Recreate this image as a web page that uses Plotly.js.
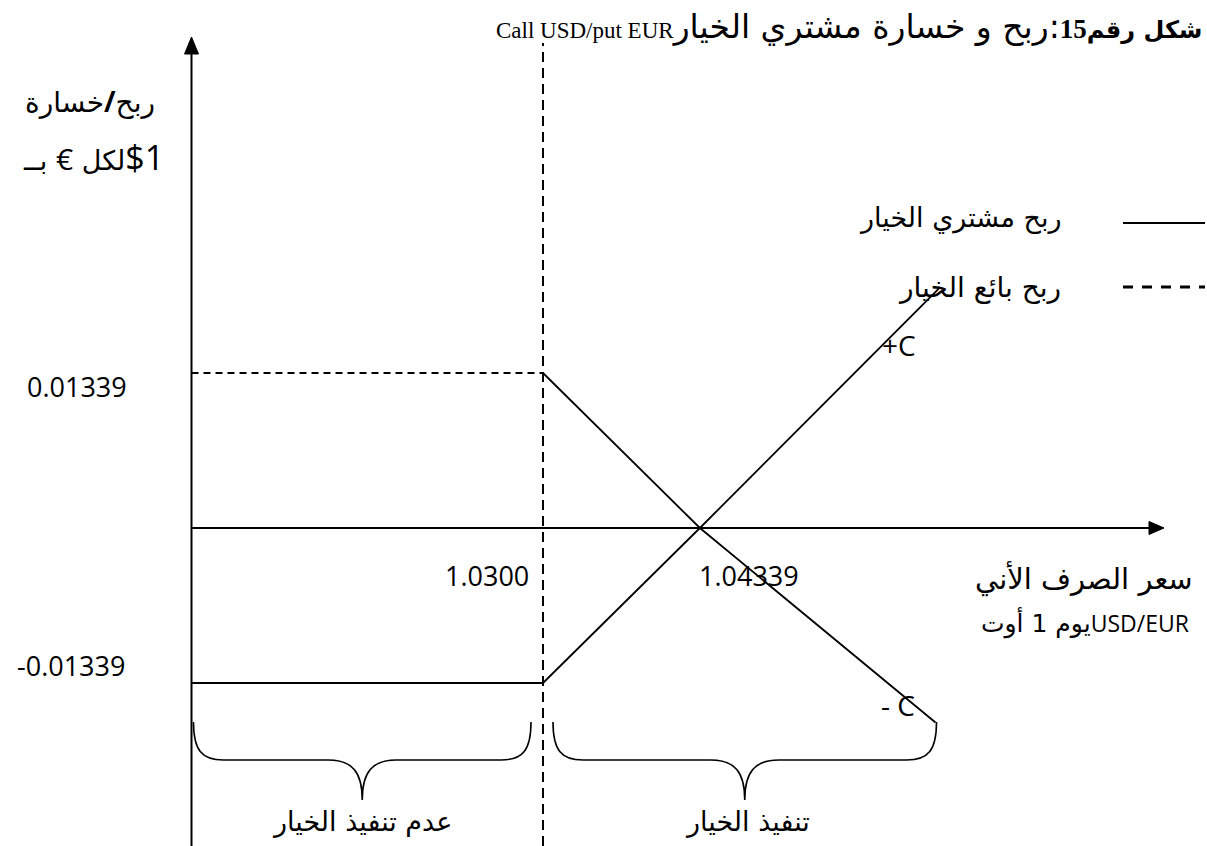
<!DOCTYPE html>
<html><head><meta charset="utf-8">
<script src="https://cdn.plot.ly/plotly-3.0.1.min.js"></script>
<style>html,body{margin:0;padding:0;background:#fff;}#chart{width:1207px;height:846px;}</style>
</head><body><div id="chart"></div>
<script>
// ---------------- data ----------------
const originX = 1.0;
const strike = 1.03;
const premium = 0.01339;
const breakEven = 1.04339;
const buyerX = [1.0, 1.03, 1.04339, 1.0638];
const buyerY = [-0.01339, -0.01339, 0, 0.0207];
const sellerFlatX = [1.0, 1.03];
const sellerFlatY = [0.01339, 0.01339];
const sellerSlopeX = [1.03, 1.04339, 1.0635];
const sellerSlopeY = [0.01339, 0, -0.0168];
const xTickVals = [1.03, 1.04339];
const xTickLabels = ['1.0300', '1.04339'];
const yTickVals = [0.01339, -0.01339];
const yTickLabels = ['0.01339', '-0.01339'];
const legendLabels = ['ربح مشتري الخيار', 'ربح بائع الخيار'];
const regionLabels = ['عدم تنفيذ الخيار', 'تنفيذ الخيار'];
const endLabels = ['+C', '- C'];

// ---------------- geometry ----------------
const W = 1207, H = 846;
const X0PX = 191.5, STRIKEPX = 543, Y0PX = 528, PREMPX = 155;
const kx = (STRIKEPX - X0PX) / (strike - originX);
const ky = PREMPX / premium;
const xRange = [originX - X0PX / kx, originX + (W - X0PX) / kx];
const yRange = [-(H - Y0PX) / ky, Y0PX / ky];
const xpx = v => X0PX + (v - originX) * kx;
const ypx = v => Y0PX - v * ky;
const PX = px => px / W;
const PY = py => 1 - py / H;
const dataX = px => originX + (px - X0PX) / kx;

const ARFONT = 'DejaVu Sans, sans-serif';
const NUMFONT = 'Open Sans, sans-serif';
const black = '#000';

const traces = [
  {x: buyerX, y: buyerY, mode: 'lines', line: {color: black, width: 1.8}, hoverinfo: 'skip'},
  {x: sellerFlatX, y: sellerFlatY, mode: 'lines', line: {color: black, width: 1.8, dash: '7px,5px'}, hoverinfo: 'skip'},
  {x: sellerSlopeX, y: sellerSlopeY, mode: 'lines', line: {color: black, width: 1.8}, hoverinfo: 'skip'}
];

function bracePath(x1, x2, yTop, yMid, yTip) {
  const xm = (x1 + x2) / 2, r = 30, t = 34;
  const p = (x, y) => PX(x).toFixed(5) + ',' + PY(y).toFixed(5);
  return 'M ' + p(x1, yTop) +
    ' C ' + p(x1, yMid - 10) + ' ' + p(x1 + 8, yMid) + ' ' + p(x1 + r, yMid) +
    ' L ' + p(xm - t, yMid) +
    ' C ' + p(xm - 10, yMid) + ' ' + p(xm, yMid + 12) + ' ' + p(xm, yTip) +
    ' C ' + p(xm, yMid + 12) + ' ' + p(xm + 10, yMid) + ' ' + p(xm + t, yMid) +
    ' L ' + p(x2 - r, yMid) +
    ' C ' + p(x2 - 8, yMid) + ' ' + p(x2, yMid - 10) + ' ' + p(x2, yTop);
}
function tri(a, b, c) {
  const p = q => PX(q[0]).toFixed(5) + ',' + PY(q[1]).toFixed(5);
  return 'M ' + p(a) + ' L ' + p(b) + ' L ' + p(c) + ' Z';
}

const endX = sellerSlopeX[sellerSlopeX.length - 1];
const shapes = [
  {type: 'line', xref: 'x', yref: 'paper', x0: originX, x1: originX, y0: 0, y1: PY(50), line: {color: black, width: 2}},
  {type: 'path', xref: 'paper', yref: 'paper', path: tri([X0PX, 37], [X0PX - 7, 54], [X0PX + 7, 54]), fillcolor: black, line: {color: black, width: 1}},
  {type: 'line', xref: 'x', yref: 'y', x0: originX, x1: dataX(1150), y0: 0, y1: 0, line: {color: black, width: 2}},
  {type: 'path', xref: 'paper', yref: 'paper', path: tri([1164, Y0PX], [1149, Y0PX - 6.5], [1149, Y0PX + 6.5]), fillcolor: black, line: {color: black, width: 1}},
  {type: 'line', xref: 'x', yref: 'paper', x0: strike, x1: strike, y0: 0, y1: PY(43), line: {color: black, width: 2, dash: '10px,6px'}},
  {type: 'path', xref: 'paper', yref: 'paper', path: bracePath(xpx(originX) + 2, xpx(strike) - 12, 722, 760, 800), line: {color: black, width: 1.6}},
  {type: 'path', xref: 'paper', yref: 'paper', path: bracePath(xpx(strike) + 10, xpx(endX) + 1, 722, 760, 800), line: {color: black, width: 1.6}},
  {type: 'line', xref: 'paper', yref: 'paper', x0: PX(1123), x1: PX(1205), y0: PY(223), y1: PY(223), line: {color: black, width: 2}},
  {type: 'line', xref: 'paper', yref: 'paper', x0: PX(1123), x1: PX(1205), y0: PY(287), y1: PY(287), line: {color: black, width: 3, dash: '10px,9px'}}
];

function ann(text, px, py, xanchor, size, family, extra) {
  return Object.assign({text: text, xref: 'paper', yref: 'paper', x: PX(px), y: PY(py), xanchor: xanchor, yanchor: 'middle',
    showarrow: false, font: {size: size, family: family, color: black}}, extra || {});
}

const annotations = [
  ann('\u202B<b><span style="font-size:24px">شكل رقم</span><span style="font-family:Liberation Serif;font-size:27px">15</span></b>:ربح و خسارة مشتري الخيار<span style="font-family:Liberation Serif;font-size:23px">Call USD/put EUR</span>\u202C', 1204, 27, 'right', 33, 'DejaVu Sans, sans-serif'),
  ann('\u202Bربح<b><span style="font-family:Open Sans">/</span></b>خسارة\u202C', 90, 101, 'center', 28, ARFONT),
  ann('<span style="font-size:27px">بــ</span>\u200E <span style="font-family:Open Sans;font-size:30px">€</span> \u200E<span style="font-size:27px">لكل</span>\u200E<span style="font-family:Open Sans;font-size:34px">$1</span>', 93, 157, 'center', 27, ARFONT),
  ann(yTickLabels[0], 77, ypx(yTickVals[0]) + 14, 'center', 27, NUMFONT),
  ann(yTickLabels[1], 71, ypx(yTickVals[1]) - 18, 'center', 27, NUMFONT),
  ann(xTickLabels[0], xpx(xTickVals[0]) - 12, 575, 'right', 27, NUMFONT),
  ann(xTickLabels[1], xpx(xTickVals[1]) - 3, 575, 'left', 27, NUMFONT),
  ann('سعر الصرف الأني', 1195, 578, 'right', 29, ARFONT),
  ann('<span style="font-size:25px">يوم 1 أوت</span><span style="font-family:Open Sans;font-size:23px">USD/EUR</span>', 1191, 622, 'right', 25, ARFONT),
  ann(legendLabels[0], 1063, 218, 'right', 27, ARFONT),
  ann(legendLabels[1], 1063, 287, 'right', 28, ARFONT),
  ann(endLabels[0], 899, 345, 'center', 28, NUMFONT),
  ann(endLabels[1], 898, 705, 'center', 28, NUMFONT),
  ann(regionLabels[0], (xpx(originX) + xpx(strike)) / 2 - 5, 822, 'center', 27, ARFONT),
  ann(regionLabels[1], (xpx(strike) + xpx(endX)) / 2 + 8, 822, 'center', 27, ARFONT)
];

const layout = {
  width: W, height: H,
  margin: {l: 0, r: 0, t: 0, b: 0},
  paper_bgcolor: '#fff', plot_bgcolor: '#fff',
  showlegend: false,
  xaxis: {range: xRange, visible: false, fixedrange: true},
  yaxis: {range: yRange, visible: false, fixedrange: true},
  shapes: shapes,
  annotations: annotations,
  font: {family: ARFONT, color: black}
};
Plotly.newPlot('chart', traces, layout, {displayModeBar: false, staticPlot: true});
</script>
</body></html>
